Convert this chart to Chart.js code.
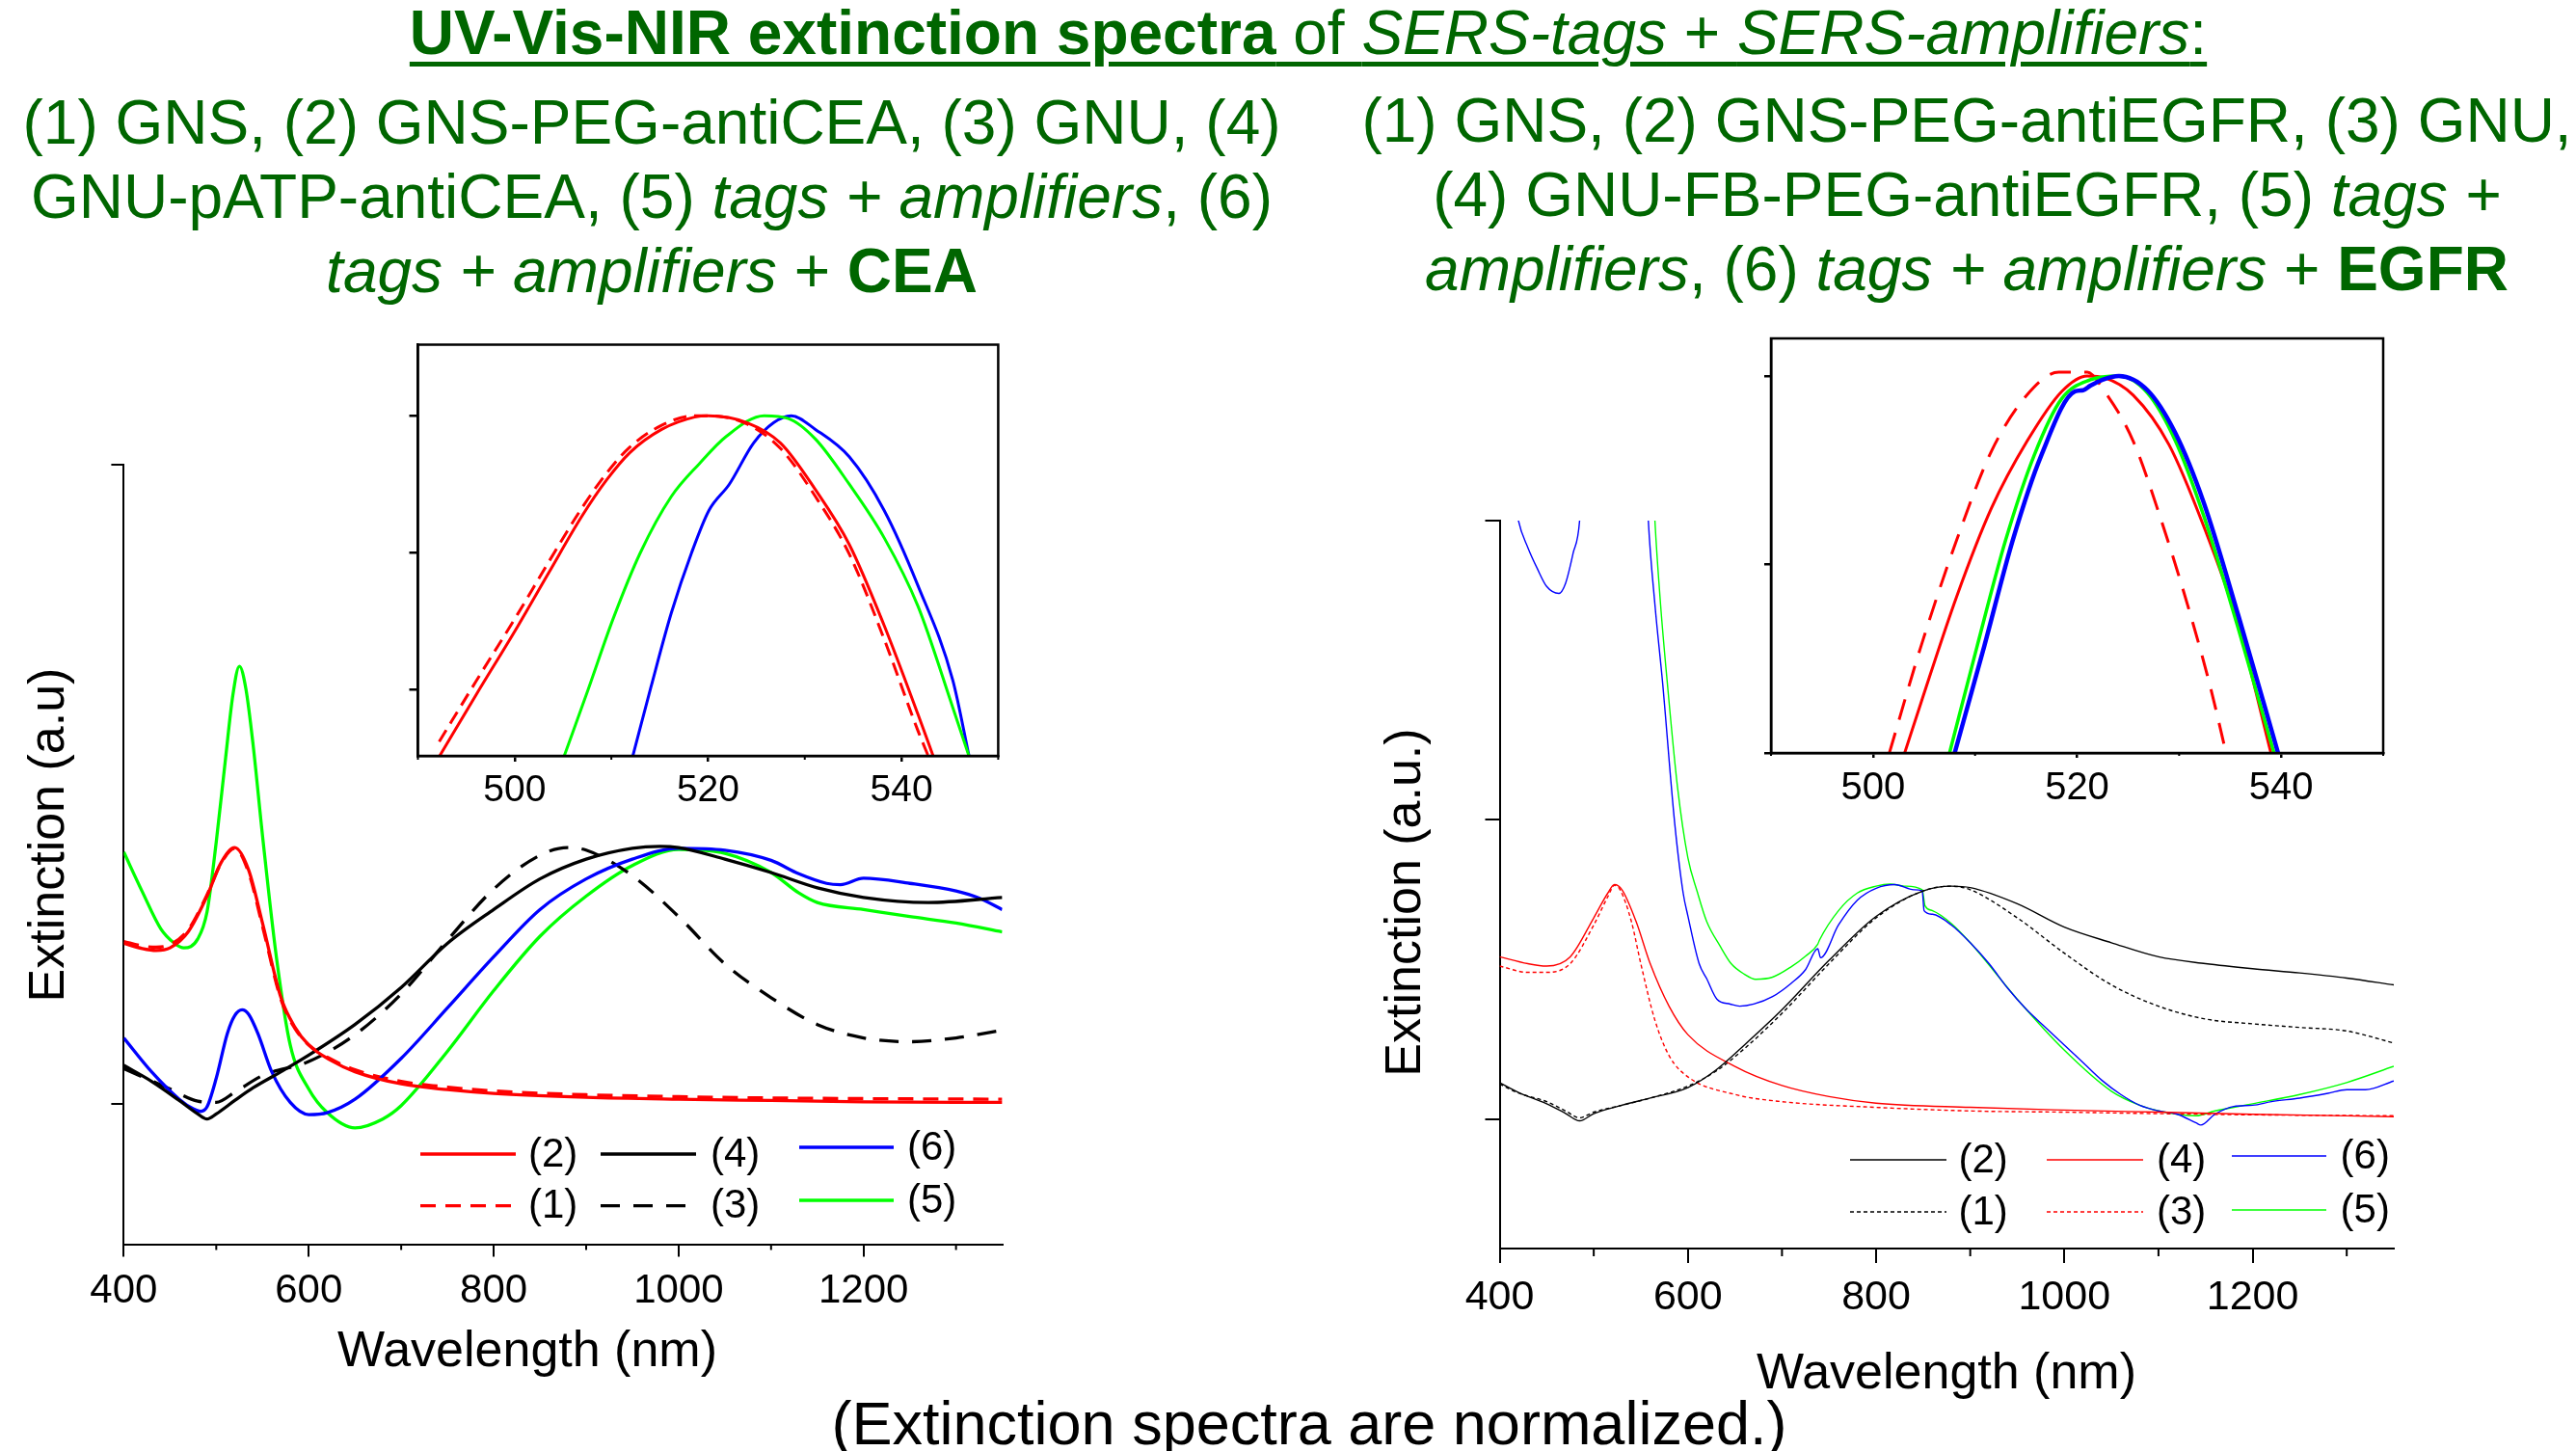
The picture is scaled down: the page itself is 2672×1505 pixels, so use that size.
<!DOCTYPE html>
<html>
<head>
<meta charset="utf-8">
<script src="https://cdn.jsdelivr.net/npm/chart.js@4.4.1/dist/chart.umd.min.js"></script>
<style>
body { margin: 0; width: 2672px; height: 1505px; overflow: hidden; background: #fff; position: relative;
       font-family: "Liberation Sans", Arial, sans-serif; }
canvas { position: absolute; }
.txt { position: absolute; white-space: nowrap; color: #006600; font-size: 64px; line-height: 77px; text-align: center; }
.ax { position: absolute; white-space: nowrap; color: #000; font-size: 52px; line-height: 52px; text-align: center; width: 600px; height: 52px; }
u { text-decoration-thickness: 5px; text-underline-offset: 8px; }
</style>
</head>
<body>
<div class="txt" style="left:0;top:3px;width:2714px;line-height:63px"><u><b>UV-Vis-NIR extinction spectra</b> of <i>SERS-tags</i> + <i>SERS-amplifiers</i>:</u></div>
<div class="txt" style="left:-24px;top:89px;width:1400px">(1) GNS, (2) GNS-PEG-antiCEA, (3) GNU, (4)<br>GNU-pATP-antiCEA, (5) <i>tags + amplifiers</i>, (6)<br><i>tags + amplifiers</i> + <b>CEA</b></div>
<div class="txt" style="left:1340px;top:87px;width:1400px">(1) GNS, (2) GNS-PEG-antiEGFR, (3) GNU,<br>(4) GNU-FB-PEG-antiEGFR, (5) <i>tags +<br>amplifiers</i>, (6) <i>tags + amplifiers</i> + <b>EGFR</b></div>

<canvas id="leftMain" width="1100" height="1000" style="left:0;top:440px"></canvas>
<canvas id="leftInset" width="760" height="520" style="left:330px;top:330px"></canvas>
<canvas id="rightMain" width="1200" height="1000" style="left:1400px;top:440px"></canvas>
<canvas id="rightInset" width="800" height="540" style="left:1740px;top:320px"></canvas>

<div class="ax" style="left:247px;top:1373px">Wavelength (nm)</div>
<div class="ax" style="left:1719px;top:1396px">Wavelength (nm)</div>
<div class="ax" style="left:-252px;top:840px;transform:rotate(-90deg)">Extinction (a.u)</div>
<div class="ax" style="left:1155px;top:910px;transform:rotate(-90deg)">Extinction (a.u.)</div>
<div class="ax" style="left:858px;top:1445px;width:1000px;font-size:63px;line-height:63px;height:63px">(Extinction spectra are normalized.)</div>

<script>
// ---- left panel (CEA), main spectra ----
const leftMainTicksX = [400, 600, 800, 1000, 1200];
const leftMainMinorX = [500, 700, 900, 1100, 1300];
const leftMainTicksY = [0, 1];

const lWl1 = [400, 420, 435, 450, 470, 490, 505, 520, 535, 550, 570, 585, 600, 625, 650, 700, 750, 800, 900, 1000, 1100, 1200, 1350];
const lEx1 = [0.254, 0.247, 0.245, 0.249, 0.273, 0.327, 0.376, 0.400, 0.362, 0.278, 0.163, 0.118, 0.092, 0.069, 0.053, 0.035, 0.026, 0.020, 0.014, 0.011, 0.009, 0.008, 0.007];
const lWl2 = [400, 420, 435, 450, 470, 490, 505, 520, 535, 550, 570, 585, 600, 625, 650, 700, 750, 800, 900, 1000, 1100, 1200, 1350];
const lEx2 = [0.251, 0.243, 0.240, 0.244, 0.270, 0.325, 0.377, 0.401, 0.366, 0.283, 0.166, 0.120, 0.092, 0.067, 0.050, 0.031, 0.022, 0.016, 0.010, 0.007, 0.005, 0.003, 0.002];
const lWl3 = [400, 450, 480, 500, 520, 550, 600, 650, 700, 750, 800, 850, 880, 900, 950, 1000, 1050, 1100, 1150, 1200, 1250, 1300, 1350];
const lEx3 = [0.055, 0.023, 0.004, 0.002, 0.018, 0.044, 0.066, 0.108, 0.172, 0.256, 0.336, 0.389, 0.401, 0.397, 0.357, 0.293, 0.219, 0.166, 0.124, 0.103, 0.097, 0.103, 0.115];
const lWl4 = [400, 430, 460, 480, 490, 500, 520, 540, 570, 600, 650, 700, 750, 800, 850, 900, 950, 980, 1000, 1050, 1100, 1150, 1200, 1270, 1350];
const lEx4 = [0.060, 0.035, 0.005, -0.016, -0.024, -0.016, 0.005, 0.025, 0.050, 0.076, 0.124, 0.182, 0.251, 0.304, 0.352, 0.383, 0.400, 0.403, 0.401, 0.383, 0.362, 0.338, 0.323, 0.315, 0.323];
const lWl5 = [400, 420, 440, 455, 465, 480, 490, 500, 510, 518, 525, 532, 540, 550, 565, 580, 600, 620, 650, 680, 700, 750, 800, 850, 900, 950, 1000, 1050, 1100, 1130, 1150, 1200, 1250, 1300, 1350];
const lEx5 = [0.394, 0.332, 0.274, 0.251, 0.244, 0.258, 0.300, 0.410, 0.540, 0.640, 0.685, 0.650, 0.560, 0.420, 0.230, 0.092, 0.023, -0.014, -0.038, -0.024, -0.003, 0.082, 0.177, 0.262, 0.325, 0.373, 0.398, 0.392, 0.362, 0.330, 0.315, 0.304, 0.293, 0.283, 0.269];
const lWl6 = [400, 430, 460, 475, 483, 490, 500, 512, 520, 528, 535, 545, 560, 580, 600, 620, 650, 700, 750, 800, 850, 900, 950, 1000, 1050, 1100, 1130, 1160, 1175, 1200, 1250, 1300, 1325, 1350];
const lEx6 = [0.103, 0.050, 0.007, -0.008, -0.012, -0.005, 0.040, 0.110, 0.138, 0.147, 0.140, 0.110, 0.050, 0.002, -0.017, -0.014, 0.007, 0.071, 0.150, 0.230, 0.304, 0.352, 0.383, 0.400, 0.397, 0.381, 0.360, 0.345, 0.343, 0.353, 0.345, 0.333, 0.322, 0.304];

// ---- left panel inset ----
const leftInsetTicksX = [500, 520, 540];
const leftInsetMinorX = [490, 510, 530, 550];
const leftInsetTicksY = [0.8, 0.9, 1.0];
const liWl1 = [492.2, 496, 500.3, 503.5, 506.9, 509.5, 511.9, 515.2, 518.6, 520, 524, 527.5, 531.1, 534.6, 538.2, 541.7, 542.8];
const liEx1 = [0.762, 0.806, 0.855, 0.893, 0.932, 0.958, 0.977, 0.993, 1.000, 1.000, 0.994, 0.976, 0.941, 0.899, 0.837, 0.770, 0.751];
const liWl2 = [492.2, 496, 500.3, 503.5, 506.9, 509.5, 511.9, 515.2, 518.6, 520, 524, 527.5, 531.1, 534.6, 538.2, 541.7, 543.3];
const liEx2 = [0.751, 0.796, 0.846, 0.885, 0.926, 0.953, 0.973, 0.990, 0.999, 1.000, 0.995, 0.980, 0.946, 0.906, 0.847, 0.782, 0.751];
const liWl5 = [505.1, 507.6, 510.2, 513.0, 516.2, 519.1, 521.9, 525.8, 528.3, 531.1, 534.6, 538.2, 541.7, 545.3, 547.0];
const liEx5 = [0.751, 0.800, 0.852, 0.900, 0.941, 0.965, 0.985, 1.000, 0.998, 0.983, 0.950, 0.911, 0.861, 0.787, 0.751];
const liWl6 = [512.2, 514.1, 516.2, 518.3, 520.1, 522.2, 524.7, 526.8, 528.6, 531.1, 534.6, 538.2, 541.7, 545.3, 547.0];
const liEx6 = [0.751, 0.802, 0.856, 0.900, 0.931, 0.950, 0.980, 0.995, 1.000, 0.990, 0.970, 0.931, 0.876, 0.807, 0.751];

// ---- right panel (EGFR), main spectra ----
const rightMainTicksX = [400, 600, 800, 1000, 1200];
const rightMainMinorX = [500, 700, 900, 1100, 1300];
const rightMainTicksY = [0, 1, 2];

const rWl12 = [400, 420, 450, 470, 485, 500, 530, 560, 600, 630, 660, 700, 750, 800, 850, 880, 900, 950, 1000, 1050, 1100, 1150, 1200, 1250, 1300, 1350];
const rEx1 = [0.118, 0.088, 0.059, 0.028, 0.005, 0.024, 0.047, 0.071, 0.111, 0.161, 0.236, 0.354, 0.520, 0.673, 0.763, 0.779, 0.767, 0.673, 0.555, 0.449, 0.378, 0.335, 0.319, 0.307, 0.295, 0.255];
const rEx2 = [0.123, 0.090, 0.052, 0.020, -0.005, 0.019, 0.047, 0.071, 0.106, 0.165, 0.248, 0.366, 0.531, 0.678, 0.763, 0.779, 0.774, 0.720, 0.642, 0.590, 0.543, 0.520, 0.503, 0.489, 0.472, 0.449];
const rWl3 = [400, 430, 450, 475, 500, 515, 522, 528, 540, 550, 565, 580, 600, 650, 700, 800, 900, 1000, 1100, 1200, 1350];
const rEx3 = [0.512, 0.491, 0.491, 0.520, 0.649, 0.744, 0.782, 0.767, 0.661, 0.520, 0.331, 0.213, 0.142, 0.083, 0.059, 0.040, 0.028, 0.024, 0.019, 0.015, 0.012];
const rWl4 = [400, 430, 450, 475, 500, 515, 522, 530, 545, 560, 580, 600, 650, 700, 750, 800, 900, 1000, 1100, 1200, 1350];
const rEx4 = [0.543, 0.520, 0.512, 0.543, 0.673, 0.756, 0.784, 0.767, 0.661, 0.520, 0.378, 0.283, 0.177, 0.113, 0.076, 0.054, 0.040, 0.031, 0.024, 0.017, 0.009];
const rWl5 = [400, 520, 558, 565, 571, 578, 589, 600, 610, 620, 634, 646, 660, 672, 690, 710, 725, 738, 740, 760, 780, 800, 815, 830, 849, 852, 860, 880, 900, 950, 1000, 1050, 1080, 1100, 1140, 1160, 1200, 1250, 1300, 1350];
const rEx5 = [3.0, 4.2, 2.5, 2.0, 1.72, 1.464, 1.11, 0.874, 0.76, 0.661, 0.58, 0.52, 0.485, 0.468, 0.475, 0.51, 0.545, 0.585, 0.60, 0.697, 0.756, 0.779, 0.786, 0.779, 0.767, 0.713, 0.697, 0.654, 0.59, 0.401, 0.231, 0.094, 0.047, 0.028, 0.012, 0.028, 0.052, 0.083, 0.123, 0.177];
const rWl6 = [400, 410, 420, 430, 440, 450, 463, 470, 478, 485, 490, 520, 550, 558, 565, 573, 586, 595, 600, 612, 620, 631, 645, 655, 670, 690, 710, 725, 738, 741, 760, 780, 800, 820, 840, 849, 851, 860, 880, 900, 920, 940, 960, 980, 1000, 1020, 1040, 1060, 1080, 1100, 1120, 1140, 1145, 1160, 1180, 1200, 1220, 1250, 1280, 1300, 1320, 1350];
const rEx6 = [2.45, 2.2, 2.0, 1.91, 1.84, 1.78, 1.757, 1.79, 1.89, 2.0, 2.3, 4.0, 2.6, 2.0, 1.72, 1.464, 0.99, 0.756, 0.68, 0.52, 0.47, 0.401, 0.385, 0.378, 0.385, 0.41, 0.455, 0.50, 0.57, 0.54, 0.649, 0.732, 0.772, 0.784, 0.767, 0.763, 0.697, 0.685, 0.649, 0.59, 0.52, 0.437, 0.366, 0.307, 0.248, 0.189, 0.13, 0.083, 0.047, 0.028, 0.017, -0.012, -0.019, 0.017, 0.043, 0.047, 0.059, 0.071, 0.087, 0.099, 0.099, 0.128];

// ---- right panel inset ----
const rightInsetTicksX = [500, 520, 540];
const rightInsetMinorX = [490, 510, 530, 550];
const rightInsetTicksY = [0, 0.5, 1];
const riWl2 = [503.1, 504.7, 508.2, 511.6, 515.1, 518.5, 521.0, 522.7, 525.5, 529.0, 532.4, 535.8, 539.0];
const riEx2 = [0, 0.133, 0.415, 0.649, 0.827, 0.959, 1.0, 0.995, 0.949, 0.818, 0.602, 0.340, 0];
const riWl1 = [501.6, 504.7, 508.2, 511.6, 515.1, 518.2, 521.0, 522.7, 525.5, 528.2, 531.0, 533.1, 534.6];
const riEx1 = [0, 0.283, 0.565, 0.800, 0.950, 1.010, 1.010, 0.959, 0.827, 0.621, 0.377, 0.171, 0];
const riWl5 = [507.5, 510.2, 513.0, 515.8, 518.5, 521.3, 524.1, 526.9, 529.6, 532.4, 535.8, 539.3];
const riEx5 = [0, 0.283, 0.565, 0.790, 0.940, 0.990, 1.0, 0.955, 0.830, 0.630, 0.330, 0];
const riWl6 = [508.0, 510.9, 513.7, 516.5, 519.8, 520.6, 521.3, 522.5, 524.1, 526.9, 529.6, 532.4, 535.8, 539.7];
const riEx6 = [0, 0.283, 0.565, 0.790, 0.959, 0.962, 0.974, 0.990, 1.0, 0.962, 0.850, 0.665, 0.365, 0];

const FONT = '"Liberation Sans", Arial, sans-serif';
const RED = '#ff0000', GREEN = '#00ff00', BLUE = '#0000ff', BLACK = '#000000';

function series(label, wl, ext, color, width, dash) {
    return {
        label: label,
        data: wl.map((x, i) => ({ x: x, y: ext[i] })),
        borderColor: color,
        borderWidth: width,
        borderDash: dash || [],
        pointRadius: 0,
        cubicInterpolationMode: 'monotone',
        tension: 0.4,
        fill: false,
        clip: 0
    };
}

// white box, frame, minor ticks and the little legend block
const decor = {
    id: 'decor',
    beforeDraw(chart, args, opts) {
        if (!opts.whiteBox) return;
        const a = chart.chartArea, ctx = chart.ctx;
        ctx.save();
        ctx.fillStyle = '#fff';
        ctx.fillRect(a.left, a.top, a.right - a.left, a.bottom - a.top);
        ctx.restore();
    },
    afterDraw(chart, args, opts) {
        const a = chart.chartArea, ctx = chart.ctx;
        ctx.save();
        ctx.strokeStyle = '#000';
        if (opts.frame) {
            ctx.lineWidth = opts.frame;
            ctx.strokeRect(a.left, a.top, a.right - a.left, a.bottom - a.top);
        }
        if (opts.minorX) {
            ctx.lineWidth = opts.minorWidth || 2;
            opts.minorX.forEach(v => {
                const px = chart.scales.x.getPixelForValue(v);
                ctx.beginPath();
                ctx.moveTo(px, a.bottom);
                ctx.lineTo(px, a.bottom + opts.minorLen);
                ctx.stroke();
            });
        }
        if (opts.legend) {
            ctx.font = opts.legendSize + 'px ' + FONT;
            ctx.textBaseline = 'middle';
            ctx.textAlign = 'left';
            opts.legend.forEach(it => {
                const ds = chart.data.datasets[it.ds];
                ctx.strokeStyle = ds.borderColor;
                ctx.lineWidth = ds.borderWidth;
                ctx.setLineDash(ds.borderDash);
                ctx.beginPath();
                ctx.moveTo(it.x1, it.y);
                ctx.lineTo(it.x2, it.y);
                ctx.stroke();
                ctx.setLineDash([]);
                ctx.fillStyle = '#000';
                ctx.fillText(ds.label, it.tx, it.y + 1);
            });
        }
        ctx.restore();
    }
};

function buildChart(id, datasets, o) {
    return new Chart(document.getElementById(id), {
        type: 'line',
        data: { datasets: datasets },
        options: {
            responsive: false,
            animation: false,
            devicePixelRatio: 1,
            layout: { padding: o.pad },
            plugins: { legend: { display: false }, tooltip: { enabled: false }, decor: o.decor },
            scales: {
                x: {
                    type: 'linear', min: o.xMin, max: o.xMax,
                    afterBuildTicks: s => { s.ticks = o.xTicks.map(v => ({ value: v })); },
                    afterFit: s => { s.height = o.xH; },
                    ticks: { color: '#000', font: { family: FONT, size: o.tickSize }, padding: o.xPad,
                             maxRotation: 0, autoSkip: false, callback: v => String(v) },
                    grid: { drawOnChartArea: false, tickLength: o.xTickLen, color: '#000', lineWidth: o.axisW },
                    border: { color: '#000', width: o.axisW }
                },
                y: {
                    type: 'linear', min: o.yMin, max: o.yMax,
                    afterBuildTicks: s => { s.ticks = o.yTicks.map(v => ({ value: v })); },
                    afterFit: s => { s.width = o.yW; },
                    ticks: { callback: () => '' },
                    grid: { drawOnChartArea: false, tickLength: o.yTickLen, color: '#000', lineWidth: o.axisW },
                    border: { color: '#000', width: o.axisW }
                }
            }
        },
        plugins: [decor]
    });
}

// left main
buildChart('leftMain', [
    series('(2)', lWl2, lEx2, RED, 3.3),
    series('(4)', lWl4, lEx4, BLACK, 3.3),
    series('(6)', lWl6, lEx6, BLUE, 3.3),
    series('(1)', lWl1, lEx1, RED, 3.3, [16, 10]),
    series('(3)', lWl3, lEx3, BLACK, 3.3, [20, 14]),
    series('(5)', lWl5, lEx5, GREEN, 3.3)
], {
    xMin: 400, xMax: 1350, yMin: -0.22, yMax: 1,
    xTicks: leftMainTicksX, yTicks: leftMainTicksY,
    pad: { left: 0, top: 42.4, right: 60.4, bottom: 0 }, yW: 128.4, xH: 149.5,
    tickSize: 42, xPad: 11, xTickLen: 13, yTickLen: 13, axisW: 2,
    decor: {
        minorX: leftMainMinorX, minorLen: 6, minorWidth: 2, legendSize: 42,
        legend: [
            { ds: 0, x1: 436, x2: 535, y: 757, tx: 548 },
            { ds: 1, x1: 623, x2: 722, y: 757, tx: 737 },
            { ds: 2, x1: 829, x2: 927, y: 750, tx: 941 },
            { ds: 3, x1: 436, x2: 535, y: 810.6, tx: 548 },
            { ds: 4, x1: 623, x2: 722, y: 810.6, tx: 737 },
            { ds: 5, x1: 829, x2: 927, y: 805, tx: 941 }
        ]
    }
});

// left inset
buildChart('leftInset', [
    series('(1)', liWl1, liEx1, RED, 3, [14, 8]),
    series('(2)', liWl2, liEx2, RED, 3),
    series('(5)', liWl5, liEx5, GREEN, 3),
    series('(6)', liWl6, liEx6, BLUE, 3)
], {
    xMin: 490, xMax: 550, yMin: 0.7516, yMax: 1.0519,
    xTicks: leftInsetTicksX, yTicks: leftInsetTicksY,
    pad: { left: 0, top: 27.5, right: 54.6, bottom: 0 }, yW: 103.5, xH: 66,
    tickSize: 39, xPad: 7, xTickLen: 6, yTickLen: 9, axisW: 2.5,
    decor: { whiteBox: true, frame: 2.5, minorX: leftInsetMinorX, minorLen: 4, minorWidth: 2 }
});

// right main
buildChart('rightMain', [
    series('(2)', rWl12, rEx2, BLACK, 1.4),
    series('(4)', rWl4, rEx4, RED, 1.4),
    series('(6)', rWl6, rEx6, BLUE, 1.4),
    series('(1)', rWl12, rEx1, BLACK, 1.4, [4, 3]),
    series('(3)', rWl3, rEx3, RED, 1.4, [4, 3]),
    series('(5)', rWl5, rEx5, GREEN, 1.4)
], {
    xMin: 400, xMax: 1350, yMin: -0.4316, yMax: 2,
    xTicks: rightMainTicksX, yTicks: rightMainTicksY,
    pad: { left: 0, top: 100, right: 117, bottom: 0 }, yW: 155.5, xH: 145,
    tickSize: 43, xPad: 10, xTickLen: 15, yTickLen: 15, axisW: 2,
    decor: {
        minorX: rightMainMinorX, minorLen: 8, minorWidth: 2, legendSize: 42,
        legend: [
            { ds: 0, x1: 519, x2: 619, y: 763, tx: 631.5 },
            { ds: 1, x1: 723, x2: 823, y: 763, tx: 837 },
            { ds: 2, x1: 915, x2: 1013, y: 759, tx: 1027.6 },
            { ds: 3, x1: 519, x2: 619, y: 817, tx: 631.5 },
            { ds: 4, x1: 723, x2: 823, y: 817, tx: 837 },
            { ds: 5, x1: 915, x2: 1013, y: 815, tx: 1027.6 }
        ]
    }
});

// right inset
buildChart('rightInset', [
    series('(6)', riWl6, riEx6, BLUE, 4.5),
    series('(5)', riWl5, riEx5, GREEN, 3.5),
    series('(4)', riWl2, riEx2, RED, 3),
    series('(3)', riWl1, riEx1, RED, 3, [22, 14])
], {
    xMin: 490, xMax: 550, yMin: 0, yMax: 1.0995,
    xTicks: rightInsetTicksX, yTicks: rightInsetTicksY,
    pad: { left: 0, top: 31, right: 68, bottom: 0 }, yW: 97, xH: 79,
    tickSize: 40, xPad: 8, xTickLen: 5, yTickLen: 7, axisW: 2.5,
    decor: { whiteBox: true, frame: 2.5, minorX: rightInsetMinorX, minorLen: 3, minorWidth: 2 }
});
</script>
</body>
</html>
